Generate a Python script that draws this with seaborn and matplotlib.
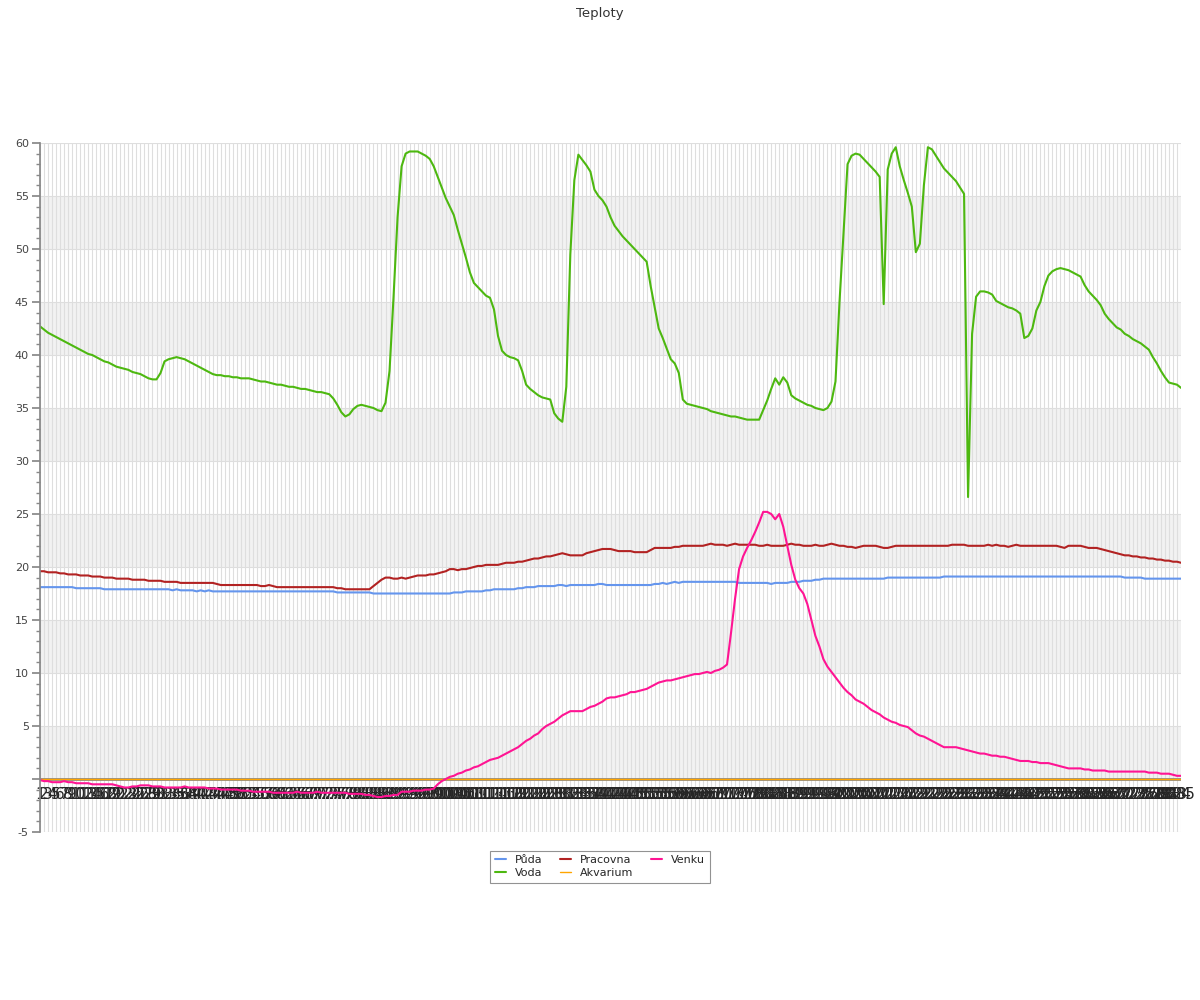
import numpy as np
import pandas as pd
import matplotlib.pyplot as plt
import seaborn as sns
from matplotlib.ticker import MultipleLocator

# Temperature readings per sensor (one value per measurement)
puda = [
    18.1, 18.1, 18.1, 18.1, 18.1, 18.1, 18.1, 18.1, 18.1, 18.0,
    18.0, 18.0, 18.0, 18.0, 18.0, 18.0, 17.9, 17.9, 17.9, 17.9,
    17.9, 17.9, 17.9, 17.9, 17.9, 17.9, 17.9, 17.9, 17.9, 17.9,
    17.9, 17.9, 17.9, 17.8, 17.9, 17.8, 17.8, 17.8, 17.8, 17.7,
    17.8, 17.7, 17.8, 17.7, 17.7, 17.7, 17.7, 17.7, 17.7, 17.7,
    17.7, 17.7, 17.7, 17.7, 17.7, 17.7, 17.7, 17.7, 17.7, 17.7,
    17.7, 17.7, 17.7, 17.7, 17.7, 17.7, 17.7, 17.7, 17.7, 17.7,
    17.7, 17.7, 17.7, 17.7, 17.6, 17.6, 17.6, 17.6, 17.6, 17.6,
    17.6, 17.6, 17.6, 17.5, 17.5, 17.5, 17.5, 17.5, 17.5, 17.5,
    17.5, 17.5, 17.5, 17.5, 17.5, 17.5, 17.5, 17.5, 17.5, 17.5,
    17.5, 17.5, 17.5, 17.6, 17.6, 17.6, 17.7, 17.7, 17.7, 17.7,
    17.7, 17.8, 17.8, 17.9, 17.9, 17.9, 17.9, 17.9, 17.9, 18.0,
    18.0, 18.1, 18.1, 18.1, 18.2, 18.2, 18.2, 18.2, 18.2, 18.3,
    18.3, 18.2, 18.3, 18.3, 18.3, 18.3, 18.3, 18.3, 18.3, 18.4,
    18.4, 18.3, 18.3, 18.3, 18.3, 18.3, 18.3, 18.3, 18.3, 18.3,
    18.3, 18.3, 18.3, 18.4, 18.4, 18.5, 18.4, 18.5, 18.6, 18.5,
    18.6, 18.6, 18.6, 18.6, 18.6, 18.6, 18.6, 18.6, 18.6, 18.6,
    18.6, 18.6, 18.6, 18.6, 18.5, 18.5, 18.5, 18.5, 18.5, 18.5,
    18.5, 18.5, 18.4, 18.5, 18.5, 18.5, 18.5, 18.6, 18.6, 18.6,
    18.7, 18.7, 18.7, 18.8, 18.8, 18.9, 18.9, 18.9, 18.9, 18.9,
    18.9, 18.9, 18.9, 18.9, 18.9, 18.9, 18.9, 18.9, 18.9, 18.9,
    18.9, 19.0, 19.0, 19.0, 19.0, 19.0, 19.0, 19.0, 19.0, 19.0,
    19.0, 19.0, 19.0, 19.0, 19.0, 19.1, 19.1, 19.1, 19.1, 19.1,
    19.1, 19.1, 19.1, 19.1, 19.1, 19.1, 19.1, 19.1, 19.1, 19.1,
    19.1, 19.1, 19.1, 19.1, 19.1, 19.1, 19.1, 19.1, 19.1, 19.1,
    19.1, 19.1, 19.1, 19.1, 19.1, 19.1, 19.1, 19.1, 19.1, 19.1,
    19.1, 19.1, 19.1, 19.1, 19.1, 19.1, 19.1, 19.1, 19.1, 19.1,
    19.0, 19.0, 19.0, 19.0, 19.0, 18.9, 18.9, 18.9, 18.9, 18.9,
    18.9, 18.9, 18.9, 18.9, 18.9,
]

voda = [
    42.7, 42.4, 42.1, 41.9, 41.7, 41.5, 41.3, 41.1, 40.9, 40.7,
    40.5, 40.3, 40.1, 40.0, 39.8, 39.6, 39.4, 39.3, 39.1, 38.9,
    38.8, 38.7, 38.6, 38.4, 38.3, 38.2, 38.0, 37.8, 37.7, 37.7,
    38.3, 39.4, 39.6, 39.7, 39.8, 39.7, 39.6, 39.4, 39.2, 39.0,
    38.8, 38.6, 38.4, 38.2, 38.1, 38.1, 38.0, 38.0, 37.9, 37.9,
    37.8, 37.8, 37.8, 37.7, 37.6, 37.5, 37.5, 37.4, 37.3, 37.2,
    37.2, 37.1, 37.0, 37.0, 36.9, 36.8, 36.8, 36.7, 36.6, 36.5,
    36.5, 36.4, 36.3, 35.9, 35.3, 34.6, 34.2, 34.4, 34.9, 35.2,
    35.3, 35.2, 35.1, 35.0, 34.8, 34.7, 35.5, 38.5, 45.5, 53.0,
    57.8, 59.0, 59.2, 59.2, 59.2, 59.0, 58.8, 58.5, 57.8, 56.8,
    55.8, 54.8, 54.0, 53.2, 51.8, 50.5, 49.2, 47.8, 46.8, 46.4,
    46.0, 45.6, 45.4, 44.3, 41.8, 40.4, 40.0, 39.8, 39.7, 39.5,
    38.5, 37.2, 36.8, 36.5, 36.2, 36.0, 35.9, 35.8, 34.5, 34.0,
    33.7, 37.0, 49.5, 56.5, 58.9, 58.4, 57.9, 57.3, 55.6, 55.0,
    54.6, 54.0, 53.0, 52.2, 51.7, 51.2, 50.8, 50.4, 50.0, 49.6,
    49.2, 48.8, 46.5, 44.5, 42.5, 41.6, 40.6, 39.6, 39.2, 38.3,
    35.8, 35.4, 35.3, 35.2, 35.1, 35.0, 34.9, 34.7, 34.6, 34.5,
    34.4, 34.3, 34.2, 34.2, 34.1, 34.0, 33.9, 33.9, 33.9, 33.9,
    34.8, 35.7, 36.8, 37.8, 37.2, 37.9, 37.4, 36.2, 35.9, 35.7,
    35.5, 35.3, 35.2, 35.0, 34.9, 34.8, 35.0, 35.6, 37.5, 45.0,
    51.5, 58.0, 58.8, 59.0, 58.9, 58.5, 58.1, 57.7, 57.3, 56.8,
    44.8, 57.5, 59.0, 59.6, 57.8, 56.5, 55.3, 54.0, 49.7, 50.5,
    56.0, 59.6, 59.4, 58.8, 58.2, 57.6, 57.2, 56.8, 56.4, 55.8,
    55.2, 26.6, 42.0, 45.5, 46.0, 46.0, 45.9, 45.7, 45.1, 44.9,
    44.7, 44.5, 44.4, 44.2, 43.9, 41.6, 41.8, 42.5, 44.2, 45.0,
    46.5, 47.5, 47.9, 48.1, 48.2, 48.1, 48.0, 47.8, 47.6, 47.4,
    46.6, 46.0, 45.6, 45.2, 44.7, 43.9, 43.4, 43.0, 42.6, 42.4,
    42.0, 41.8, 41.5, 41.3, 41.1, 40.8, 40.5, 39.8, 39.2, 38.5,
    37.9, 37.4, 37.3, 37.2, 36.9,
]

pracovna = [
    19.6, 19.6, 19.5, 19.5, 19.5, 19.4, 19.4, 19.3, 19.3, 19.3,
    19.2, 19.2, 19.2, 19.1, 19.1, 19.1, 19.0, 19.0, 19.0, 18.9,
    18.9, 18.9, 18.9, 18.8, 18.8, 18.8, 18.8, 18.7, 18.7, 18.7,
    18.7, 18.6, 18.6, 18.6, 18.6, 18.5, 18.5, 18.5, 18.5, 18.5,
    18.5, 18.5, 18.5, 18.5, 18.4, 18.3, 18.3, 18.3, 18.3, 18.3,
    18.3, 18.3, 18.3, 18.3, 18.3, 18.2, 18.2, 18.3, 18.2, 18.1,
    18.1, 18.1, 18.1, 18.1, 18.1, 18.1, 18.1, 18.1, 18.1, 18.1,
    18.1, 18.1, 18.1, 18.1, 18.0, 18.0, 17.9, 17.9, 17.9, 17.9,
    17.9, 17.9, 17.9, 18.2, 18.5, 18.8, 19.0, 19.0, 18.9, 18.9,
    19.0, 18.9, 19.0, 19.1, 19.2, 19.2, 19.2, 19.3, 19.3, 19.4,
    19.5, 19.6, 19.8, 19.8, 19.7, 19.8, 19.8, 19.9, 20.0, 20.1,
    20.1, 20.2, 20.2, 20.2, 20.2, 20.3, 20.4, 20.4, 20.4, 20.5,
    20.5, 20.6, 20.7, 20.8, 20.8, 20.9, 21.0, 21.0, 21.1, 21.2,
    21.3, 21.2, 21.1, 21.1, 21.1, 21.1, 21.3, 21.4, 21.5, 21.6,
    21.7, 21.7, 21.7, 21.6, 21.5, 21.5, 21.5, 21.5, 21.4, 21.4,
    21.4, 21.4, 21.6, 21.8, 21.8, 21.8, 21.8, 21.8, 21.9, 21.9,
    22.0, 22.0, 22.0, 22.0, 22.0, 22.0, 22.1, 22.2, 22.1, 22.1,
    22.1, 22.0, 22.1, 22.2, 22.1, 22.1, 22.1, 22.1, 22.1, 22.0,
    22.0, 22.1, 22.0, 22.0, 22.0, 22.0, 22.1, 22.2, 22.1, 22.1,
    22.0, 22.0, 22.0, 22.1, 22.0, 22.0, 22.1, 22.2, 22.1, 22.0,
    22.0, 21.9, 21.9, 21.8, 21.9, 22.0, 22.0, 22.0, 22.0, 21.9,
    21.8, 21.8, 21.9, 22.0, 22.0, 22.0, 22.0, 22.0, 22.0, 22.0,
    22.0, 22.0, 22.0, 22.0, 22.0, 22.0, 22.0, 22.1, 22.1, 22.1,
    22.1, 22.0, 22.0, 22.0, 22.0, 22.0, 22.1, 22.0, 22.1, 22.0,
    22.0, 21.9, 22.0, 22.1, 22.0, 22.0, 22.0, 22.0, 22.0, 22.0,
    22.0, 22.0, 22.0, 22.0, 21.9, 21.8, 22.0, 22.0, 22.0, 22.0,
    21.9, 21.8, 21.8, 21.8, 21.7, 21.6, 21.5, 21.4, 21.3, 21.2,
    21.1, 21.1, 21.0, 21.0, 20.9, 20.9, 20.8, 20.8, 20.7, 20.7,
    20.6, 20.6, 20.5, 20.5, 20.4,
]

akvarium = [0.0] * 285

venku = [
    -0.1, -0.2, -0.2, -0.3, -0.3, -0.3, -0.2, -0.3, -0.3, -0.4,
    -0.4, -0.4, -0.4, -0.5, -0.5, -0.5, -0.5, -0.5, -0.5, -0.6,
    -0.7, -0.8, -0.8, -0.7, -0.7, -0.6, -0.6, -0.6, -0.7, -0.7,
    -0.7, -0.8, -0.8, -0.8, -0.8, -0.8, -0.7, -0.8, -0.8, -0.8,
    -0.8, -0.8, -0.9, -0.9, -0.9, -1.0, -1.0, -1.0, -1.0, -1.0,
    -1.1, -1.1, -1.1, -1.2, -1.2, -1.2, -1.2, -1.2, -1.3, -1.3,
    -1.3, -1.3, -1.3, -1.3, -1.2, -1.3, -1.3, -1.3, -1.3, -1.2,
    -1.3, -1.3, -1.3, -1.3, -1.3, -1.3, -1.3, -1.4, -1.4, -1.4,
    -1.4, -1.5, -1.5, -1.6, -1.7, -1.7, -1.6, -1.6, -1.5, -1.5,
    -1.2, -1.2, -1.2, -1.1, -1.1, -1.1, -1.0, -1.0, -0.9, -0.5,
    -0.2, 0.0, 0.2, 0.3, 0.5, 0.6, 0.8, 0.9, 1.1, 1.2,
    1.4, 1.6, 1.8, 1.9, 2.0, 2.2, 2.4, 2.6, 2.8, 3.0,
    3.3, 3.6, 3.8, 4.1, 4.3, 4.7, 5.0, 5.2, 5.4, 5.7,
    6.0, 6.2, 6.4, 6.4, 6.4, 6.4, 6.6, 6.8, 6.9, 7.1,
    7.3, 7.6, 7.7, 7.7, 7.8, 7.9, 8.0, 8.2, 8.2, 8.3,
    8.4, 8.5, 8.7, 8.9, 9.1, 9.2, 9.3, 9.3, 9.4, 9.5,
    9.6, 9.7, 9.8, 9.9, 9.9, 10.0, 10.1, 10.0, 10.2, 10.3,
    10.5, 10.8, 13.8, 17.0, 19.8, 21.0, 21.8, 22.5, 23.3, 24.2,
    25.2, 25.2, 25.0, 24.5, 25.0, 23.8, 22.0, 20.2, 18.8, 18.0,
    17.5, 16.5, 15.0, 13.5, 12.5, 11.3, 10.6, 10.1, 9.6, 9.1,
    8.6, 8.2, 7.9, 7.5, 7.3, 7.1, 6.8, 6.5, 6.3, 6.1,
    5.8, 5.6, 5.4, 5.3, 5.1, 5.0, 4.9, 4.6, 4.3, 4.1,
    4.0, 3.8, 3.6, 3.4, 3.2, 3.0, 3.0, 3.0, 3.0, 2.9,
    2.8, 2.7, 2.6, 2.5, 2.4, 2.4, 2.3, 2.2, 2.2, 2.1,
    2.1, 2.0, 1.9, 1.8, 1.7, 1.7, 1.7, 1.6, 1.6, 1.5,
    1.5, 1.5, 1.4, 1.3, 1.2, 1.1, 1.0, 1.0, 1.0, 1.0,
    0.9, 0.9, 0.8, 0.8, 0.8, 0.8, 0.7, 0.7, 0.7, 0.7,
    0.7, 0.7, 0.7, 0.7, 0.7, 0.7, 0.6, 0.6, 0.6, 0.5,
    0.5, 0.5, 0.4, 0.3, 0.3,
]

x_labels = [str(n) for n in range(1, len(voda) + 1)]

series = {
    'Půda': puda,
    'Voda': voda,
    'Pracovna': pracovna,
    'Akvarium': akvarium,
    'Venku': venku,
}
colors = {
    'Půda': '#6495ED',
    'Voda': '#4DB810',
    'Pracovna': '#B22222',
    'Akvarium': '#FFA500',
    'Venku': '#FF1493',
}

df = pd.concat(
    [pd.DataFrame({'idx': np.arange(len(v)), 'teplota': v, 'cidlo': k}) for k, v in series.items()],
    ignore_index=True,
)

sns.set_theme(style="white")
plt.rcParams['font.family'] = ['DejaVu Sans']

fig = plt.figure(figsize=(12, 10), dpi=100)
ax = fig.add_axes([40 / 1200, 168 / 1000, 1141 / 1200, 689 / 1000])

# alternating grey bands
for lo in range(0, 60, 10):
    ax.axhspan(lo, lo + 5, color='#F2F2F2', zorder=0, lw=0)

ax.axhline(0, color='#888888', lw=2.0, zorder=1)

sns.lineplot(data=df, x='idx', y='teplota', hue='cidlo', palette=colors,
             hue_order=list(series.keys()), linewidth=1.5, sort=False, ax=ax)

handles, labels = ax.get_legend_handles_labels()
ax.get_legend().remove()

# the empty aquarium sensor sits on the zero line, keep it thin
for line in ax.lines:
    if line.get_color() == colors['Akvarium']:
        line.set_linewidth(1.0)

ax.set_xlim(0, len(voda) - 1)
ax.set_ylim(-5, 60)
ax.set_xticks(np.arange(len(voda)))
ax.set_xticklabels(x_labels, fontsize=7.5, color='#555555')
ax.yaxis.set_minor_locator(MultipleLocator(1))
yt = np.arange(-5, 61, 5)
ax.set_yticks(yt)
ax.set_yticklabels(['' if v == 0 else str(v) for v in yt], fontsize=8, color='#444444')

ax.set_axisbelow(True)
ax.grid(True, axis='both', which='major', color='#DEDEDE', linewidth=0.8)
ax.set_xlabel('')
ax.set_ylabel('')

for s in ['top', 'right']:
    ax.spines[s].set_visible(False)
ax.spines['bottom'].set_position(('data', 0))
ax.spines['bottom'].set_visible(False)
ax.spines['left'].set_color('#888888')
ax.tick_params(axis='x', length=0, pad=6)
ax.tick_params(axis='y', which='major', direction='out', length=6, color='#888888', left=True, pad=2)
ax.tick_params(axis='y', which='minor', direction='out', length=3, color='#888888', left=True)

fig.suptitle('Teploty', y=0.993, fontsize=9.5, color='#333333')

leg = fig.legend(handles, labels, loc='upper center', bbox_to_anchor=(0.5, 0.155), ncol=3,
                 frameon=True, fancybox=False, edgecolor='#777777', fontsize=8,
                 handlelength=1.0, columnspacing=1.6, borderpad=0.4, labelspacing=0.3,
                 handletextpad=0.8)
leg.get_frame().set_linewidth(0.8)

plt.savefig('out.png', dpi=100)
plt.close()
